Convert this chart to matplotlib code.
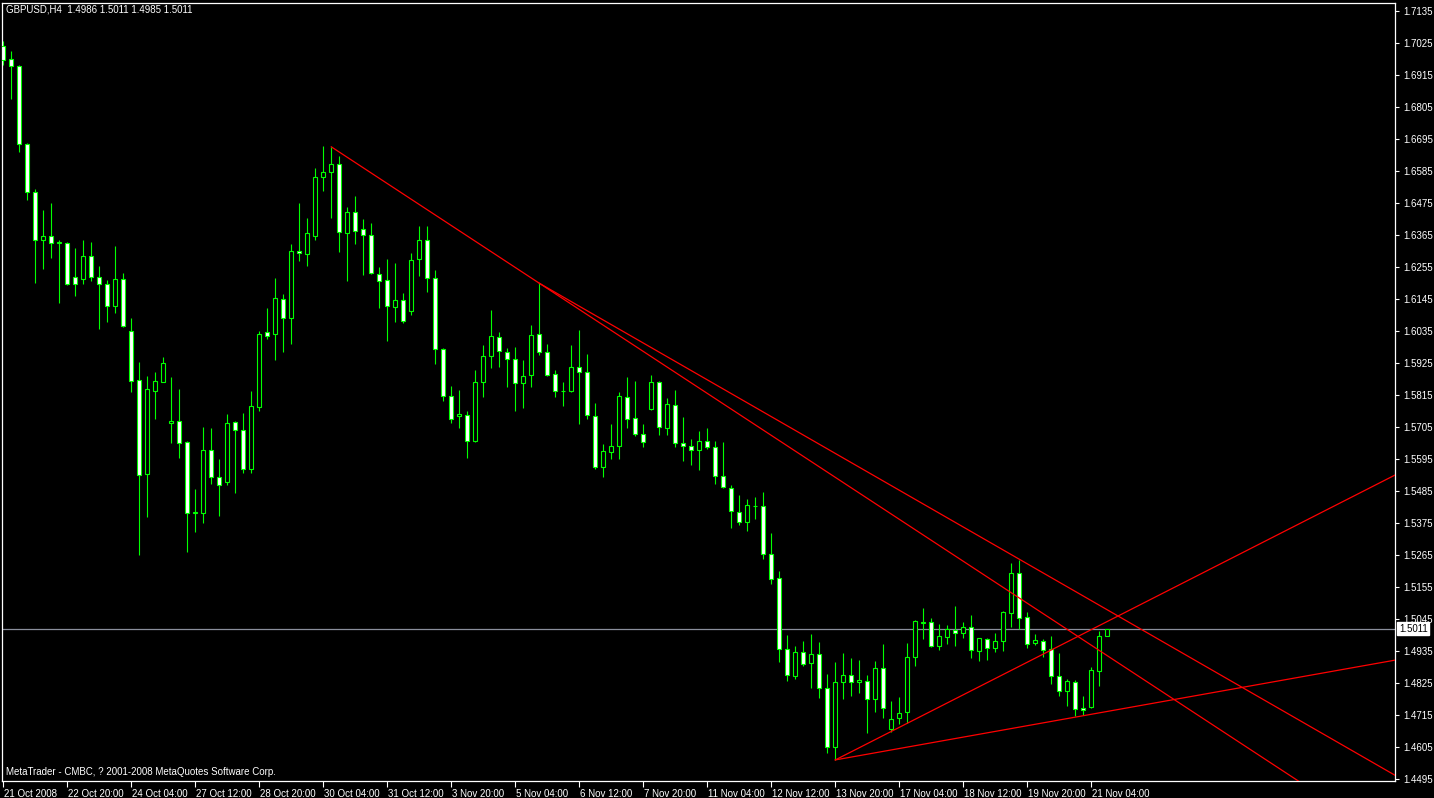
import matplotlib
matplotlib.use("Agg")
import matplotlib.pyplot as plt
import matplotlib.transforms as mtransforms
from matplotlib.patches import Rectangle

plt.rcParams['font.family'] = ['Liberation Sans', 'DejaVu Sans']

# ---------------- data ----------------
symbol_header = "GBPUSD,H4  1.4986 1.5011 1.4985 1.5011"
footer = "MetaTrader - CMBC, ? 2001-2008 MetaQuotes Software Corp."

opens = [1.7015, 1.6969, 1.6945, 1.6677, 1.6512, 1.6347, 1.6361, 1.6336, 1.6338, 1.6219,
         1.6214, 1.6291, 1.6222, 1.6196, 1.6122, 1.6215, 1.6036, 1.5866, 1.5543, 1.5829,
         1.5861, 1.5719, 1.5727, 1.5652, 1.5410, 1.5408, 1.5627, 1.5532, 1.5515, 1.5721,
         1.5693, 1.5559, 1.5772, 1.6030, 1.6023, 1.6144, 1.6078, 1.6309, 1.6298, 1.6360,
         1.6563, 1.6580, 1.6608, 1.6371, 1.6443, 1.6384, 1.6364, 1.6230, 1.6209, 1.6116,
         1.6140, 1.6102, 1.6281, 1.6347, 1.6216, 1.5972, 1.5810, 1.5741, 1.5745, 1.5655,
         1.5858, 1.5948, 1.6013, 1.5961, 1.5937, 1.5855, 1.5882, 1.6023, 1.5961, 1.5886,
         1.5827, 1.5827, 1.5910, 1.5893, 1.5741, 1.5566, 1.5618, 1.5638, 1.5807, 1.5735,
         1.5680, 1.5765, 1.5858, 1.5700, 1.5779, 1.5649, 1.5638, 1.5625, 1.5655, 1.5635,
         1.5535, 1.5494, 1.5411, 1.5377, 1.5433, 1.5432, 1.5267, 1.5184, 1.4940, 1.4847,
         1.4930, 1.4892, 1.4923, 1.4806, 1.4603, 1.4827, 1.4851, 1.4827, 1.4830, 1.4768,
         1.4875, 1.4665, 1.4703, 1.4724, 1.4913, 1.5030, 1.5033, 1.4951, 1.4982, 1.5006,
         1.4995, 1.5016, 1.4933, 1.4975, 1.4944, 1.4968, 1.5064, 1.5202, 1.5050, 1.4961,
         1.4968, 1.4940, 1.4847, 1.4796, 1.4827, 1.4737, 1.4741, 1.4865, 1.4986]
highs = [1.7031, 1.6997, 1.6949, 1.6680, 1.6523, 1.6450, 1.6475, 1.6347, 1.6341, 1.6320,
         1.6348, 1.6341, 1.6258, 1.6209, 1.6327, 1.6234, 1.6079, 1.5928, 1.5879, 1.5894,
         1.5946, 1.5876, 1.5835, 1.5657, 1.5491, 1.5704, 1.5702, 1.5595, 1.5749, 1.5724,
         1.5753, 1.5828, 1.6035, 1.6114, 1.6217, 1.6162, 1.6334, 1.6475, 1.6423, 1.6595,
         1.6671, 1.6668, 1.6636, 1.6461, 1.6499, 1.6420, 1.6406, 1.6255, 1.6282, 1.6269,
         1.6165, 1.6303, 1.6396, 1.6396, 1.6244, 1.5975, 1.5846, 1.5832, 1.5760, 1.5901,
         1.5987, 1.6107, 1.6031, 1.5976, 1.5980, 1.5935, 1.6055, 1.6199, 1.5990, 1.5901,
         1.5859, 1.5987, 1.6038, 1.5956, 1.5787, 1.5646, 1.5715, 1.5825, 1.5877, 1.5863,
         1.5715, 1.5883, 1.5863, 1.5804, 1.5832, 1.5738, 1.5662, 1.5690, 1.5700, 1.5655,
         1.5652, 1.5504, 1.5470, 1.5456, 1.5463, 1.5480, 1.5339, 1.5208, 1.4988, 1.4951,
         1.4968, 1.4992, 1.4964, 1.4854, 1.4896, 1.4927, 1.4909, 1.4903, 1.4851, 1.4899,
         1.4958, 1.4762, 1.4775, 1.4961, 1.5041, 1.5081, 1.5047, 1.5026, 1.5023, 1.5088,
         1.5033, 1.5057, 1.4978, 1.4978, 1.4995, 1.5071, 1.5236, 1.5246, 1.5068, 1.4992,
         1.4975, 1.4985, 1.4927, 1.4837, 1.4834, 1.4779, 1.4878, 1.5002, 1.5011]
lows = [1.6948, 1.6834, 1.6651, 1.6486, 1.6201, 1.6249, 1.6285, 1.6132, 1.6194, 1.6155,
        1.6196, 1.6207, 1.6042, 1.6066, 1.6095, 1.6050, 1.5826, 1.5265, 1.5396, 1.5733,
        1.5860, 1.5649, 1.5599, 1.5276, 1.5344, 1.5375, 1.5510, 1.5399, 1.5506, 1.5477,
        1.5545, 1.5545, 1.5761, 1.6008, 1.5936, 1.5964, 1.5991, 1.6276, 1.6259, 1.6349,
        1.6517, 1.6424, 1.6307, 1.6208, 1.6335, 1.6228, 1.6231, 1.6115, 1.6001, 1.6067,
        1.6063, 1.6091, 1.6224, 1.6170, 1.5922, 1.5795, 1.5719, 1.5702, 1.5599, 1.5653,
        1.5809, 1.5909, 1.5912, 1.5843, 1.5761, 1.5771, 1.5843, 1.5951, 1.5879, 1.5809,
        1.5778, 1.5826, 1.5716, 1.5731, 1.5559, 1.5532, 1.5594, 1.5596, 1.5700, 1.5675,
        1.5637, 1.5764, 1.5676, 1.5678, 1.5635, 1.5587, 1.5573, 1.5556, 1.5628, 1.5508,
        1.5494, 1.5356, 1.5367, 1.5346, 1.5387, 1.5250, 1.5164, 1.4896, 1.4830, 1.4837,
        1.4882, 1.4806, 1.4772, 1.4583, 1.4560, 1.4768, 1.4779, 1.4789, 1.4654, 1.4726,
        1.4705, 1.4655, 1.4682, 1.4686, 1.4884, 1.4975, 1.4947, 1.4937, 1.4958, 1.4951,
        1.4978, 1.4909, 1.4899, 1.4903, 1.4930, 1.4933, 1.5016, 1.5009, 1.4944, 1.4954,
        1.4913, 1.4820, 1.4779, 1.4744, 1.4710, 1.4713, 1.4737, 1.4813, 1.4985]
closes = [1.6965, 1.6945, 1.6677, 1.6512, 1.6349, 1.6361, 1.6336, 1.6340, 1.6196, 1.6196,
          1.6291, 1.6222, 1.6196, 1.6122, 1.6212, 1.6053, 1.5862, 1.5541, 1.5834, 1.5862,
          1.5924, 1.5727, 1.5650, 1.5410, 1.5411, 1.5627, 1.5532, 1.5504, 1.5720, 1.5694,
          1.5559, 1.5776, 1.6023, 1.6017, 1.6147, 1.6078, 1.6309, 1.6302, 1.6371, 1.6563,
          1.6580, 1.6608, 1.6374, 1.6443, 1.6378, 1.6364, 1.6233, 1.6206, 1.6120, 1.6140,
          1.6068, 1.6278, 1.6347, 1.6216, 1.5972, 1.5810, 1.5731, 1.5748, 1.5655, 1.5858,
          1.5948, 1.6017, 1.5965, 1.5937, 1.5855, 1.5879, 1.6020, 1.5961, 1.5882, 1.5827,
          1.5828, 1.5910, 1.5893, 1.5745, 1.5566, 1.5621, 1.5638, 1.5810, 1.5731, 1.5680,
          1.5652, 1.5858, 1.5704, 1.5783, 1.5649, 1.5638, 1.5625, 1.5655, 1.5635, 1.5535,
          1.5497, 1.5415, 1.5377, 1.5435, 1.5434, 1.5267, 1.5181, 1.4940, 1.4851, 1.4930,
          1.4889, 1.4923, 1.4806, 1.4603, 1.4827, 1.4851, 1.4827, 1.4834, 1.4768, 1.4875,
          1.4740, 1.4700, 1.4720, 1.4913, 1.5037, 1.5033, 1.4951, 1.4985, 1.5009, 1.4995,
          1.5016, 1.4937, 1.4978, 1.4944, 1.4968, 1.5068, 1.5202, 1.5047, 1.4958, 1.4971,
          1.4937, 1.4847, 1.4796, 1.4830, 1.4734, 1.4731, 1.4868, 1.4985, 1.5011]

date_labels = ["21 Oct 2008", "22 Oct 20:00", "24 Oct 04:00", "27 Oct 12:00", "28 Oct 20:00",
               "30 Oct 04:00", "31 Oct 12:00", "3 Nov 20:00", "5 Nov 04:00", "6 Nov 12:00",
               "7 Nov 20:00", "11 Nov 04:00", "12 Nov 12:00", "13 Nov 20:00", "17 Nov 04:00",
               "18 Nov 12:00", "19 Nov 20:00", "21 Nov 04:00"]
date_label_bars = [0, 8, 16, 24, 32, 40, 48, 56, 64, 72, 80, 88, 96, 104, 112, 120, 128, 136]

price_ticks = [1.4495, 1.4605, 1.4715, 1.4825, 1.4935, 1.5045, 1.5155, 1.5265, 1.5375,
               1.5485, 1.5595, 1.5705, 1.5815, 1.5925, 1.6035, 1.6145, 1.6255, 1.6365,
               1.6475, 1.6585, 1.6695, 1.6805, 1.6915, 1.7025, 1.7135]

# trend lines (rays): start bar, start price, second bar, second price
trend_start_bar = [41, 67, 104, 104]
trend_start_price = [1.6668, 1.6199, 1.4560, 1.4560]
trend_end_bar = [67, 127, 136, 135]
trend_end_price = [1.6199, 1.5250, 1.5008, 1.4712]

bid_price = 1.5011

# ---------------- figure ----------------
W, H = 1434, 798
fig = plt.figure(figsize=(W / 100, H / 100), dpi=100, facecolor="black")
ax = fig.add_axes([2 / W, 17 / H, 1393 / W, 778 / H])
ax.set_facecolor("black")

n = len(opens)
xs = list(range(n))
green = "#00FF00"

# wicks
ax.vlines(xs, lows, highs, color=green, linewidth=0.8, zorder=2)
# bodies
for i in xs:
    o, c = opens[i], closes[i]
    bottom = min(o, c)
    height = max(abs(c - o), 0.00004)
    fill = "black" if c >= o else "white"
    ax.add_patch(Rectangle((i - 0.27, bottom), 0.54, height, facecolor=fill,
                           edgecolor=green, linewidth=0.8, zorder=3))

xmin, xmax = -0.16, 173.96
ymin, ymax = 1.44875, 1.71625
ax.set_xlim(xmin, xmax)
ax.set_ylim(ymin, ymax)

# bid line
ax.axhline(bid_price, color="#8a8f9c", linewidth=0.9, zorder=1)

# trend rays
for sb, sp, eb, ep in zip(trend_start_bar, trend_start_price, trend_end_bar, trend_end_price):
    slope = (ep - sp) / (eb - sb)
    x_end = xmax + 10
    ax.plot([sb, x_end], [sp, sp + slope * (x_end - sb)], color="#FF0000",
            linewidth=0.9, zorder=4, clip_on=True)

# spines
for s in ax.spines.values():
    s.set_color("white")
    s.set_linewidth(0.9)

# y ticks on right
ax.yaxis.tick_right()
ax.set_yticks(price_ticks)
ax.set_yticklabels([f"{p:.4f}" for p in price_ticks])
ax.tick_params(axis="y", colors="white", length=3, width=0.8, pad=3, labelsize=7)

# x ticks
ax.set_xticks(date_label_bars)
ax.set_xticklabels(date_labels)
ax.tick_params(axis="x", colors="white", length=4, width=0.8, pad=2, labelsize=7)
offset = mtransforms.ScaledTranslation(1 / 100, 0, fig.dpi_scale_trans)
for lbl in ax.get_xticklabels():
    lbl.set_horizontalalignment("left")
    lbl.set_transform(lbl.get_transform() + offset)

# bid price box
trans = mtransforms.blended_transform_factory(ax.transAxes, ax.transData)
ax.text(1.0 + 4 / 1393, bid_price, f"{bid_price:.4f}", transform=trans, color="black",
        fontsize=7, va="center", ha="left", clip_on=False, zorder=10,
        bbox=dict(facecolor="white", edgecolor="white", pad=1.2))

# header and footer text
fig.text(6 / W, 1 - 10 / H, symbol_header, color="white", fontsize=7, va="center", ha="left")
fig.text(6 / W, 1 - 772 / H, footer, color="white", fontsize=7, va="center", ha="left")

fig.savefig("out.png", dpi=100, facecolor="black")
